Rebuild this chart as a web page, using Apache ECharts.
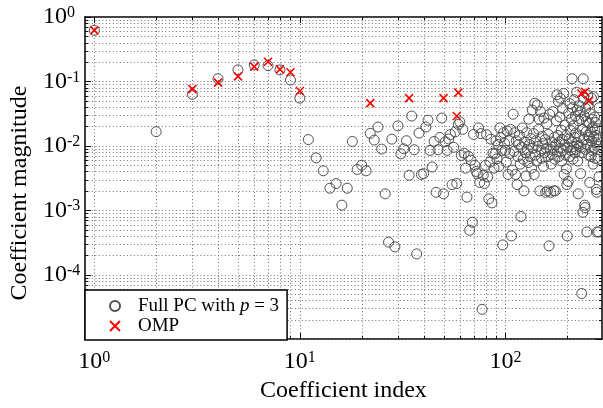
<!DOCTYPE html>
<html><head><meta charset="utf-8">
<script src="https://cdn.jsdelivr.net/npm/echarts@6/dist/echarts.min.js"></script>
<style>html,body{margin:0;padding:0;background:#fff}#c{width:603px;height:408px}</style>
</head><body><div id="c"></div>
<script>
// Full PC (p = 3) coefficient magnitudes, index 1..286
const pcValues = [
0.62,0.0166,0.063,0.11,0.151,0.18,0.176,0.151,0.105,0.055,
0.0125,0.0065,0.0041,0.0022,0.0026,0.0012,0.0022,0.0117,0.0043,0.005,
0.0041,0.0156,0.0123,0.0196,0.0089,0.0018,0.00032,0.0127,0.00027,0.0204,
0.0075,0.009,0.012,0.0035,0.029,0.0087,0.00021,0.0158,0.0036,0.0037,
0.0196,0.025,0.0085,0.0047,0.0117,0.0019,0.0087,0.0135,0.027,0.0018,
0.0116,0.0085,0.0128,0.015,0.0025,0.0095,0.0165,0.0026,0.0215,0.0236,
0.0071,0.018,0.0077,0.0045,0.0016,0.0069,0.00049,0.006,0.00065,0.015,
0.005,0.004,0.0037,0.019,0.0027,0.0155,0.000029,0.0035,0.0026,0.005,
0.0149,0.0033,0.0015,0.0056,0.0127,0.0013,0.0077,0.0045,0.0075,0.012,
0.0063,0.0105,0.0048,0.019,0.0135,0.0085,0.00029,0.016,0.011,0.0085,
0.0056,0.017,0.0036,0.012,0.0076,0.018,0.0004,0.0042,0.031,0.0082,
0.016,0.0036,0.012,0.0025,0.0068,0.0105,0.0145,0.0052,0.0008,0.0095,
0.019,0.0062,0.002,0.0115,0.0078,0.0034,0.016,0.0088,0.0055,0.026,
0.0105,0.0068,0.013,0.0045,0.036,0.0092,0.0155,0.0036,0.046,0.0072,
0.012,0.0058,0.043,0.0098,0.018,0.026,0.002,0.034,0.0085,0.0064,
0.014,0.0108,0.0048,0.027,0.0078,0.0125,0.0019,0.0092,0.022,0.002,
0.0068,0.015,0.00028,0.031,0.0088,0.0019,0.0052,0.0115,0.0074,0.034,
0.0095,0.002,0.0135,0.0062,0.002,0.0105,0.0245,0.062,0.0082,0.0145,
0.049,0.0068,0.0115,0.028,0.055,0.0092,0.0175,0.0058,0.0125,0.038,
0.0085,0.065,0.0036,0.0105,0.021,0.0072,0.0145,0.0044,0.0025,0.0004,
0.0095,0.0028,0.032,0.0128,0.0068,0.045,0.0175,0.0085,0.026,0.0115,
0.11,0.039,0.0062,0.0205,0.0098,0.052,0.0135,0.0078,0.029,0.0158,
0.0088,0.068,0.0112,0.036,0.0058,0.0018,0.0245,0.0098,0.042,0.0142,
0.034,0.0037,0.0095,0.026,0.000051,0.0078,0.018,0.00093,0.11,0.055,
0.0125,0.029,0.0012,0.0011,0.0088,0.038,0.0165,0.024,0.00046,0.0105,
0.062,0.0145,0.043,0.0072,0.0225,0.0135,0.0027,0.032,0.0095,0.0165,
0.0068,0.055,0.0118,0.026,0.0085,0.0195,0.0052,0.058,0.0138,0.0092,
0.028,0.0175,0.0064,0.023,0.0112,0.0145,0.0021,0.0019,0.00046,0.0185,
0.0098,0.0125,0.0062,0.00046,0.0033,0.039
];
const ompIndex = [1,3,4,5,6,7,8,9,10,22,34,50,58,59,234,244,255];
const ompValues = [0.62,0.076,0.096,0.12,0.17,0.202,0.154,0.139,0.071,0.046,0.055,0.055,0.029,0.067,0.065,0.069,0.050];
const xMajorTicks = [1,10,100];
const xMinorTicks = [2,3,4,5,6,7,8,9,20,30,40,50,60,70,80,90,200];
const yMajorTicks = [1e-5,1e-4,1e-3,1e-2,1e-1,1];
const yMinorTicks = [];
[1e-5,1e-4,1e-3,1e-2,1e-1].forEach(d=>{[2,3,4,5,6,7,8,9].forEach(m=>yMinorTicks.push(+(m*d).toPrecision(3)));});
const xMin = 0.9, xMax = 295, yMin = 1e-5, yMax = 1;

const FONT = 'Liberation Serif';
const pcData = pcValues.map((v,i)=>[i+1, v]);
const ompData = ompIndex.map((n,i)=>[n, ompValues[i]]);
const xGridData = xMajorTicks.map(v=>[v,1,1]).concat(xMinorTicks.map(v=>[v,1,0]));
const yGridData = yMajorTicks.map(v=>[1,v,1]).concat(yMinorTicks.map(v=>[1,v,0]));

function supLabel(v){
  const e = Math.log10(v); const r = Math.round(e);
  if (Math.abs(e-r) > 1e-6) return '';
  return '{b|10}{s|' + r + '}';
}
const richLab = {
  b:{fontFamily:FONT,fontSize:24,lineHeight:24,color:'#000'},
  s:{fontFamily:FONT,fontSize:16,lineHeight:6,verticalAlign:'top',color:'#000'}
};
const GRID_COLOR = '#707070';
function xGridItem(params, api){
  const cs = params.coordSys;
  const px = Math.round(api.coord([api.value(0), 1])[0]) + 0.5;
  const tl = api.value(2) ? 6 : 3;
  const top = cs.y, bot = cs.y + cs.height;
  return {type:'group', children:[
    {type:'line', shape:{x1:px,y1:top,x2:px,y2:bot}, style:{stroke:GRID_COLOR,lineWidth:1,lineDash:[1,2.5]}},
    {type:'line', shape:{x1:px,y1:bot,x2:px,y2:bot-tl}, style:{stroke:'#000',lineWidth:1}},
    {type:'line', shape:{x1:px,y1:top,x2:px,y2:top+tl}, style:{stroke:'#000',lineWidth:1}}
  ]};
}
function yGridItem(params, api){
  const cs = params.coordSys;
  const py = Math.round(api.coord([1, api.value(1)])[1]) + 0.5;
  const tl = api.value(2) ? 6 : 3;
  const l = cs.x, r = cs.x + cs.width;
  return {type:'group', children:[
    {type:'line', shape:{x1:l,y1:py,x2:r,y2:py}, style:{stroke:GRID_COLOR,lineWidth:1,lineDash:[1,2.5]}},
    {type:'line', shape:{x1:l,y1:py,x2:l+tl,y2:py}, style:{stroke:'#000',lineWidth:1}},
    {type:'line', shape:{x1:r,y1:py,x2:r-tl,y2:py}, style:{stroke:'#000',lineWidth:1}}
  ]};
}
const axisLineStyle = {show:true, lineStyle:{color:'#000', width:1.5}};
const chart = echarts.init(document.getElementById('c'), null, {renderer:'canvas'});
chart.setOption({
  animation:false,
  backgroundColor:'#fff',
  grid:{left:79, right:1, top:17, bottom:62},
  xAxis:[
    {type:'log', logBase:10, min:xMin, max:xMax, position:'bottom',
     axisLine:axisLineStyle, axisTick:{show:false}, splitLine:{show:false}, minorTick:{show:false},
     axisLabel:{margin:11, formatter:supLabel, rich:richLab, showMinLabel:false, showMaxLabel:false, interval:0},
     name:'Coefficient index', nameLocation:'middle', nameGap:31,
     nameTextStyle:{fontFamily:FONT, fontSize:24, color:'#000'}},
    {type:'log', logBase:10, min:xMin, max:xMax, position:'top',
     axisLine:axisLineStyle, axisTick:{show:false}, splitLine:{show:false}, axisLabel:{show:false}}
  ],
  yAxis:[
    {type:'log', logBase:10, min:yMin, max:yMax, position:'left',
     axisLine:axisLineStyle, axisTick:{show:false}, splitLine:{show:false}, minorTick:{show:false},
     axisLabel:{margin:42, align:'left', formatter:v=> (Math.abs(Math.log10(v)+5)<1e-6 ? '' : supLabel(v)), rich:richLab, interval:0},
     name:'Coefficient magnitude', nameLocation:'middle', nameGap:46,
     nameTextStyle:{fontFamily:FONT, fontSize:24, color:'#000', padding:[0,30,0,0]}},
    {type:'log', logBase:10, min:yMin, max:yMax, position:'right',
     axisLine:axisLineStyle, axisTick:{show:false}, splitLine:{show:false}, axisLabel:{show:false}}
  ],
  legend:{
    left:85, top:290, orient:'vertical', padding:[6,8,4,24], itemGap:0,
    itemWidth:36, itemHeight:10,
    backgroundColor:'#fff', borderColor:'#000', borderWidth:1.5, borderRadius:0,
    data:['Full PC with p = 3','OMP'],
    formatter:function(name){
      if (name === 'OMP') return '{a|OMP}';
      return '{a|Full PC with }{i|p}{a| = 3}';
    },
    textStyle:{fontFamily:FONT, fontSize:19, lineHeight:20, color:'#000',
      rich:{a:{fontFamily:FONT,fontSize:19,lineHeight:20,color:'#000'},
            i:{fontFamily:FONT,fontSize:19,lineHeight:20,fontStyle:'italic',color:'#000'}}}
  },
  series:[
    {type:'custom', name:'xgrid', silent:true, z:1, xAxisIndex:0, yAxisIndex:0,
     renderItem:xGridItem, data:xGridData, encode:{x:0,y:1}, clip:false},
    {type:'custom', name:'ygrid', silent:true, z:1, xAxisIndex:0, yAxisIndex:0,
     renderItem:yGridItem, data:yGridData, encode:{x:0,y:1}, clip:false},
    {type:'scatter', name:'Full PC with p = 3', z:3, symbol:'circle', symbolSize:10,
     itemStyle:{color:'rgba(255,255,255,0)', borderColor:'#505050', borderWidth:1, opacity:1},
     data:pcData},
    {type:'scatter', name:'OMP', z:4,
     symbol:'path://M0,0L10,10M10,0L0,10', symbolSize:8,
     itemStyle:{color:'#ff0000', borderColor:'#ff0000', borderWidth:1.6, opacity:1},
     data:ompData}
  ]
});
</script></body></html>
